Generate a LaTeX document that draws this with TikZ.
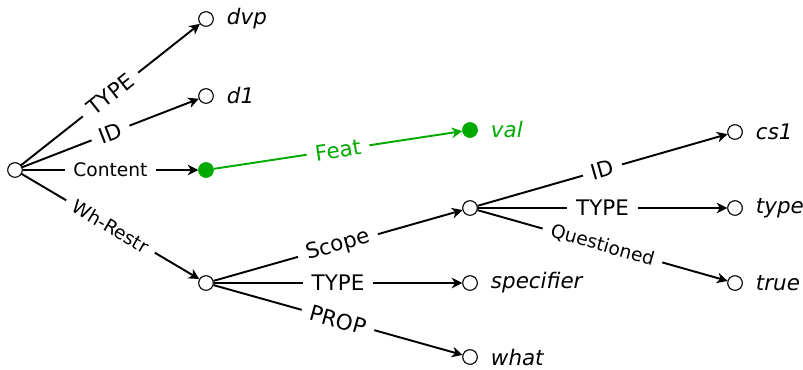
\documentclass[tikz,border=0pt]{standalone}
\usepackage{fontspec}
\setmainfont{DejaVu Sans}
\usetikzlibrary{arrows.meta}
\definecolor{fgreen}{RGB}{0,170,0}
\begin{document}
\begin{tikzpicture}[x=0.02cm,y=-0.02cm,
  fs/.style={circle,draw,fill=white,minimum size=0.29cm,inner sep=0pt,line width=0.55pt},
  fsg/.style={fs,draw=fgreen,fill=fgreen},
  val/.style={label={[font=\fontsize{12.2}{14}\selectfont\itshape,label distance=4pt]right:#1}},
  gval/.style={label={[text=fgreen,font=\fontsize{12.2}{14}\selectfont\itshape,label distance=4pt]right:#1}},
  edge/.style={line width=1.1pt,-{Stealth[length=6pt,width=6pt,inset=1.8pt]}},
  lab/.style={sloped,fill=white,font=\fontsize{12.2}{14}\selectfont,inner xsep=5pt,inner ysep=2pt},
  slab/.style={lab,font=\fontsize{10.6}{12}\selectfont}]
\useasboundingbox (0,0) rectangle (803,369);
\node[fs] (root) at (15,170) {};
\node[fs,val=dvp] (dvp) at (206,19) {};
\node[fs,val=d1] (d1) at (206,96) {};
\node[fsg] (cont) at (206,170) {};
\node[fs] (wh) at (206,283) {};
\node[fsg,gval=val] (val) at (470,130) {};
\node[fs] (scope) at (470,208) {};
\node[fs,val=specifier] (spec) at (470,283) {};
\node[fs,val=what] (what) at (470,357) {};
\node[fs,val=cs1] (cs1) at (735,132) {};
\node[fs,val=type] (type) at (735,208) {};
\node[fs,val=true] (true) at (735,283) {};

\draw[edge] (root) -- node[lab] {TYPE} (dvp);
\draw[edge] (root) -- node[lab] {ID} (d1);
\draw[edge] (root) -- node[slab] {Content} (cont);
\draw[edge] (root) -- node[slab] {Wh-Restr} (wh);
\draw[edge,fgreen] (cont) -- node[lab,text=fgreen] {Feat} (val);
\draw[edge] (wh) -- node[lab] {Scope} (scope);
\draw[edge] (wh) -- node[lab] {TYPE} (spec);
\draw[edge] (wh) -- node[lab] {PROP} (what);
\draw[edge] (scope) -- node[lab] {ID} (cs1);
\draw[edge] (scope) -- node[lab] {TYPE} (type);
\draw[edge] (scope) -- node[slab] {Questioned} (true);
\foreach \n in {root,dvp,d1,wh,scope,spec,what,cs1,type,true} \node[fs] at (\n) {};
\foreach \n in {cont,val} \node[fsg] at (\n) {};
\end{tikzpicture}
\end{document}
